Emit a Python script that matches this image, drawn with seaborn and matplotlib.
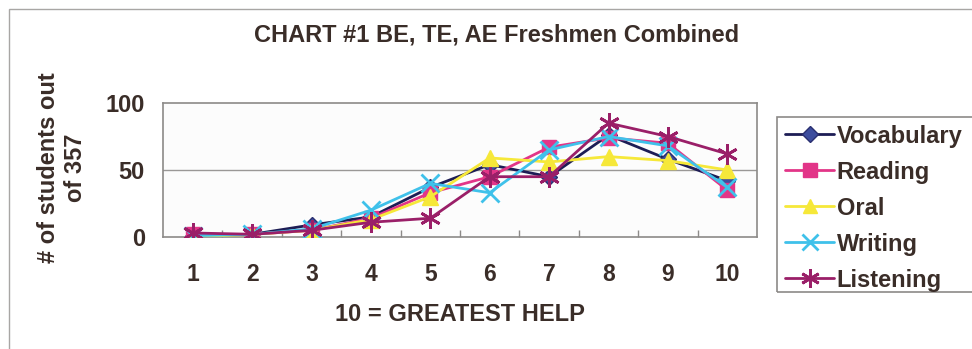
import matplotlib
matplotlib.use("Agg")
import matplotlib.pyplot as plt
from matplotlib.patches import Rectangle
from matplotlib.lines import Line2D
import numpy as np
import pandas as pd
import seaborn as sns

# Help ratings 1..10 and the number of students choosing each rating
ratings = [1, 2, 3, 4, 5, 6, 7, 8, 9, 10]
vocabulary = [1, 2, 9, 15, 37, 54, 45, 76, 58, 42]
reading = [2, 2, 5, 14, 33, 45, 67, 74, 70, 35]
oral = [0, 2, 5, 13, 30, 59, 56, 60, 57, 50]
writing = [1, 2, 6, 20, 40, 33, 65, 75, 68, 37]
listening = [3, 2, 5, 11, 14, 45, 45, 85, 75, 62]
skills = ["Vocabulary", "Reading", "Oral", "Writing", "Listening"]
y_ticks = [0, 50, 100]

title = "CHART #1 BE, TE, AE Freshmen Combined"
x_title = "10 = GREATEST HELP"
y_title = "# of students out\nof 357"

sns.set_theme(style="white")
plt.rcParams["font.family"] = ["Liberation Sans", "DejaVu Sans"]
plt.rcParams["font.weight"] = "bold"

text_col = "#3a2d28"
frame_col = "#8c8a88"

df = pd.DataFrame({
    "rating": ratings * 5,
    "count": vocabulary + reading + oral + writing + listening,
    "skill": np.repeat(skills, len(ratings)),
})

styles = {
    "Vocabulary": dict(color="#1d1d55", marker="D", ms=8.5, mfc="#3d4d9e", mec="#2a2f70"),
    "Reading": dict(color="#e23588", marker="s", ms=10.5, mfc="#e23588", mec="#e23588"),
    "Oral": dict(color="#f6e839", marker="^", ms=11.5, mfc="#f6e839", mec="#f6e839"),
    "Writing": dict(color="#3fc1ea", marker="x", ms=12.5, mfc="#3fc1ea", mec="#3fc1ea"),
    "Listening": dict(color="#9a1f68", marker=(6, 2, 0), ms=15, mfc="#9a1f68", mec="#9a1f68"),
}

W, H = 972, 349
fig = plt.figure(figsize=(W / 100, H / 100), dpi=100)
fig.patch.set_facecolor("white")

# Outer chart-area frame
fig.add_artist(Rectangle((9 / W, -0.05), 1.2, 1 - 9 / H + 0.05, transform=fig.transFigure,
                         fill=False, edgecolor="#a8a6a4", lw=1.0))

ax = fig.add_axes([163 / W, 1 - 237 / H, (757 - 163) / W, (237 - 103) / H])
ax.set_facecolor("#fcfcfc")

for s in skills:
    st = styles[s]
    sns.lineplot(data=df[df["skill"] == s], x="rating", y="count", ax=ax,
                 color=st["color"], marker=st["marker"], markersize=st["ms"],
                 markerfacecolor=st["mfc"], markeredgecolor=st["mec"],
                 markeredgewidth=2 if s in ("Writing", "Listening") else 1,
                 linewidth=2, label=s, legend=False, zorder=3)

ax.set_xlim(0.5, 10.5)
ax.set_ylim(0, 100)
ax.set_xticks(ratings)
ax.set_xticklabels([str(r) for r in ratings], fontsize=16.5, fontweight="bold", color=text_col)
ax.set_xticks(np.arange(1.5, 10.5, 1.0), minor=True)
ax.set_yticks(y_ticks)
ax.set_yticklabels([str(v) for v in y_ticks], fontsize=17, fontweight="bold", color=text_col)
ax.tick_params(axis="x", which="major", length=0, pad=19)
ax.tick_params(axis="x", which="minor", length=5, direction="in", color=frame_col, width=1, bottom=True)
ax.tick_params(axis="y", length=0, pad=13)
ax.axhline(50, color="#9a9896", lw=1, zorder=1)
for sp in ax.spines.values():
    sp.set_color(frame_col)
    sp.set_linewidth(1.2)
ax.set_xlabel(x_title, fontsize=17, fontweight="bold", color=text_col, labelpad=12)
ax.set_ylabel("")

fig.text(497 / W, 1 - 35 / H, title, ha="center", va="center", fontsize=17,
         fontweight="bold", color=text_col)
fig.text(62 / W, 1 - 168 / H, y_title, ha="center", va="center", rotation=90,
         fontsize=17, fontweight="bold", color=text_col, linespacing=1.25)

# Legend box
fig.add_artist(Rectangle((777 / W, 1 - 292 / H), 0.3, (292 - 117) / H, transform=fig.transFigure,
                         fill=False, edgecolor="#8c8a88", lw=1.2))
handles = []
for s in skills:
    st = styles[s]
    handles.append(Line2D([], [], color=st["color"], lw=2, marker=st["marker"],
                          markersize=st["ms"] * 0.9, markerfacecolor=st["mfc"],
                          markeredgecolor=st["mec"],
                          markeredgewidth=2 if s in ("Writing", "Listening") else 1))
leg = fig.legend(handles, skills, loc="upper left", bbox_to_anchor=(780 / W, 1 - 120 / H),
                 frameon=False, fontsize=17, handlelength=2.1, handletextpad=0.1,
                 labelspacing=0.55, borderaxespad=0, borderpad=0.2)
for t in leg.get_texts():
    t.set_color(text_col)
    t.set_fontweight("bold")

fig.savefig("out.png", dpi=100, facecolor="white")
